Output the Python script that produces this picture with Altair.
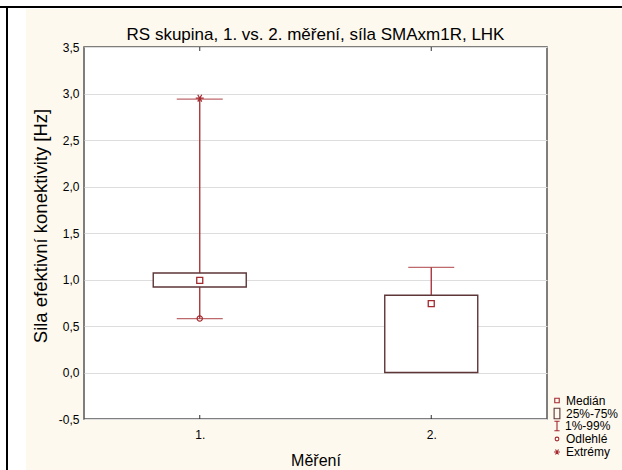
import altair as alt
import pandas as pd

# ---- data ----
categories = ["1.", "2."]
q1 = [0.92, 0.0]
q3 = [1.07, 0.83]
median = [0.99, 0.74]
whisk_low = [0.58, 0.0]
whisk_high = [2.94, 1.13]
outlier_cat = ["1."]
outlier_val = [0.58]
extreme_cat = ["1."]
extreme_val = [2.95]
y_ticks = [-0.5, 0.0, 0.5, 1.0, 1.5, 2.0, 2.5, 3.0, 3.5]
legend_labels = ["Medián", "25%-75%", " 1%-99%", "Odlehlé", "Extrémy"]
title_text = "RS skupina, 1. vs. 2. měření, síla SMAxm1R, LHK"

FONT = "Liberation Sans"
WHISK = "#A3292E"
BOXC = "#5E3638"
CREAM = "#FEF9EE"

W, H = 463, 372

box_df = pd.DataFrame({"cat": categories, "q1": q1, "q3": q3, "med": median,
                       "lo": whisk_low, "hi": whisk_high})
out_df = pd.DataFrame({"cat": outlier_cat, "v": outlier_val})
ext_df = pd.DataFrame({"cat": extreme_cat, "v": extreme_val})

xs = alt.Scale(type="point", padding=0.5, domain=categories)
ys = alt.Scale(domain=[-0.5, 3.5], nice=False, zero=False)

X = alt.X("cat:N", scale=xs, title="Měření",
          axis=alt.Axis(labelAngle=0, ticks=False, domain=False, labelFontSize=12,
                        labelFont=FONT, labelColor="black", labelPadding=10,
                        titleFont=FONT, titleFontSize=16, titleFontWeight="normal",
                        titleColor="black", titleX=W / 2, titleY=46,
                        titleBaseline="alphabetic", titleAlign="center"))
Yaxis = alt.Axis(values=y_ticks, grid=True, gridColor="#DDDDDD", gridWidth=1,
                 domain=False, ticks=False, labelFontSize=12, labelFont=FONT,
                 labelColor="black", labelPadding=5,
                 labelExpr="replace(replace(format(datum.value, '.1f'), '.', ','), '\u2212', '-')",
                 titleFont=FONT, titleFontSize=18.5, titleFontWeight="normal",
                 titleColor="black", titleAngle=270, titleX=-37.5, titleY=178.5,
                 titleBaseline="alphabetic", titleAlign="center")

base = alt.Chart(box_df)

upper_wh = base.mark_rule(color=WHISK, strokeWidth=1.3).encode(
    x=X, y=alt.Y("q3:Q", scale=ys, axis=Yaxis, title="Sila efektivní konektivity [Hz]"),
    y2="hi:Q")
lower_wh = base.mark_rule(color=WHISK, strokeWidth=1.3).encode(
    x=alt.X("cat:N", scale=xs), y=alt.Y("lo:Q", scale=ys), y2="q1:Q")
cap_hi = base.mark_tick(color=WHISK, size=46, thickness=1.3, orient="horizontal").encode(
    x=alt.X("cat:N", scale=xs), y=alt.Y("hi:Q", scale=ys))
cap_lo = alt.Chart(box_df[box_df["lo"] < box_df["q1"]]).mark_tick(
    color=WHISK, size=46, thickness=1.3, orient="horizontal").encode(
    x=alt.X("cat:N", scale=xs), y=alt.Y("lo:Q", scale=ys))
boxes = base.mark_bar(size=93, fill="white", stroke=BOXC, strokeWidth=1.4).encode(
    x=alt.X("cat:N", scale=xs), y=alt.Y("q1:Q", scale=ys), y2="q3:Q")
meds = base.mark_point(shape="square", size=36, filled=False, color=WHISK,
                       strokeWidth=1.3, opacity=1).encode(
    x=alt.X("cat:N", scale=xs), y=alt.Y("med:Q", scale=ys))
outs = alt.Chart(out_df).mark_point(shape="circle", size=28, filled=False, color=WHISK,
                                    strokeWidth=1.2, opacity=1).encode(
    x=alt.X("cat:N", scale=xs), y=alt.Y("v:Q", scale=ys))
STAR = "M-1,0L1,0M-0.5,-0.866L0.5,0.866M-0.5,0.866L0.5,-0.866"
exts = alt.Chart(ext_df).mark_point(shape=STAR, size=64, filled=False, color=WHISK,
                                    strokeWidth=1.2, opacity=1).encode(
    x=alt.X("cat:N", scale=xs), y=alt.Y("v:Q", scale=ys))

# inner ticks at top and bottom of the frame
tick_top = base.mark_rule(color="#333333", strokeWidth=1).encode(
    x=alt.X("cat:N", scale=xs), y=alt.value(0), y2=alt.value(4))
tick_bot = base.mark_rule(color="#333333", strokeWidth=1).encode(
    x=alt.X("cat:N", scale=xs), y=alt.value(H - 4), y2=alt.value(H))

# page decoration: white margin strips and black frame lines
one = pd.DataFrame({"a": [0]})
deco = alt.Chart(one)
strip_l = deco.mark_rect(color="white").encode(
    x=alt.value(-84), x2=alt.value(-58), y=alt.value(-47), y2=alt.value(H + 51))
strip_t = deco.mark_rect(color="white").encode(
    x=alt.value(-84), x2=alt.value(W + 75), y=alt.value(-47), y2=alt.value(-38))
line_t = deco.mark_rule(color="black", strokeWidth=2).encode(
    x=alt.value(-84), x2=alt.value(W + 75), y=alt.value(-40))
line_l = deco.mark_rule(color="black", strokeWidth=2).encode(
    x=alt.value(-77), y=alt.value(-41), y2=alt.value(H + 51))

# chart title as text (placed relative to the plot area)
title_mark = deco.mark_text(text=title_text, align="center", baseline="alphabetic",
                            font=FONT, fontSize=17, color="black").encode(
    x=alt.value(W / 2), y=alt.value(-7))

# legend (manual)
lx_sym, lx_txt = 473, 482
ly = [353.5, 366.5, 379, 392, 405]
leg_syms = [
    ("square", 20),
    ("M-0.55,-1L0.55,-1L0.55,1L-0.55,1Z", 110),
    ("M-0.55,-1L0.55,-1M0,-1L0,1M-0.55,1L0.55,1", 90),
    ("circle", 14),
    (STAR, 36),
]
leg_layers = []
for i, (shp, sz) in enumerate(leg_syms):
    col = BOXC if i == 1 else WHISK
    leg_layers.append(deco.mark_point(shape=shp, size=sz, filled=False, color=col,
                                      strokeWidth=1.1, opacity=1).encode(
        x=alt.value(lx_sym), y=alt.value(ly[i])))
    leg_layers.append(deco.mark_text(text=legend_labels[i], align="left", baseline="middle",
                                     font=FONT, fontSize=12, color="black").encode(
        x=alt.value(lx_txt if i != 2 else lx_txt - 1), y=alt.value(ly[i])))

chart = alt.layer(
    upper_wh, lower_wh, cap_hi, cap_lo, boxes, meds, outs, exts, tick_top, tick_bot,
    strip_l, strip_t, line_t, line_l, title_mark, *leg_layers
).properties(
    width=W, height=H,
    autosize=alt.AutoSizeParams(type="none"),
    padding={"left": 84, "top": 47, "right": 75, "bottom": 51},
    background=CREAM,
).configure_view(fill="white", stroke="#555555", strokeWidth=1.5)

chart.save("out.html", embed_options={"renderer": "svg", "actions": False})
